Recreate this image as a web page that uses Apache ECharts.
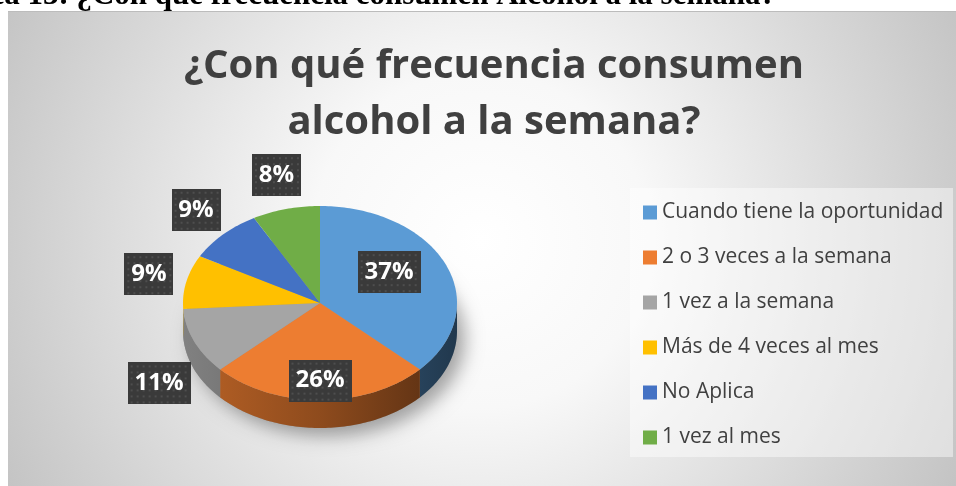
<!DOCTYPE html>
<html>
<head>
<meta charset="utf-8">
<script src="https://cdn.jsdelivr.net/npm/echarts@6/dist/echarts.min.js"></script>
<style>
  html, body { margin: 0; padding: 0; background: #fff; }
  #chart { width: 956px; height: 486px; }
</style>
</head>
<body>
<div id="chart"></div>
<script>
const categories = ['Cuando tiene la oportunidad', '2 o 3 veces a la semana', '1 vez a la semana', 'Más de 4 veces al mes', 'No Aplica', '1 vez al mes'];
const values = [37, 26, 11, 9, 9, 8];
const sliceColors = ['#5b9bd5', '#ed7d31', '#a5a5a5', '#ffc000', '#4472c4', '#70ad47'];

const chart = echarts.init(document.getElementById('chart'));

// flattened pie, drawn as a tilted disc
const cx = 320, cy = 303, rx = 137, ry = 97, depth = 28;
const total = values.reduce((a, b) => a + b, 0);
const starts = [];
values.reduce((acc, v, i) => { starts[i] = acc; return acc + v; }, 0);

function rim(a, dy) {
  return [cx + rx * Math.sin(a), cy - ry * Math.cos(a) + dy];
}

function arcPoints(a0, a1, dy) {
  const n = Math.max(2, Math.ceil((a1 - a0) / 0.02));
  const pts = [];
  for (let k = 0; k <= n; k++) pts.push(rim(a0 + (a1 - a0) * k / n, dy));
  return pts;
}

function shade(hex, f) {
  const c = echarts.color.parse(hex);
  return 'rgb(' + Math.round(c[0] * f) + ',' + Math.round(c[1] * f) + ',' + Math.round(c[2] * f) + ')';
}

// dark dotted box behind the percentage labels
function dotBox(w, h) {
  const c = document.createElement('canvas');
  c.width = w; c.height = h;
  const ctx = c.getContext('2d');
  ctx.fillStyle = '#3a3a3a';
  ctx.fillRect(0, 0, w, h);
  ctx.fillStyle = '#4e4e4e';
  for (let y = 3; y < h; y += 6) {
    for (let x = 3; x < w; x += 6) ctx.fillRect(x, y, 2, 2);
  }
  return c;
}

function renderSlice(params, api) {
  const i = params.seriesIndex;
  const v = api.value(0);
  const a0 = starts[i] / total * Math.PI * 2;
  const a1 = (starts[i] + v) / total * Math.PI * 2;
  const color = sliceColors[i];
  const children = [];

  if (i === 0) {
    children.push({
      type: 'ellipse',
      silent: true,
      shape: { cx: cx, cy: cy + depth, rx: rx, ry: ry },
      style: { fill: '#999', shadowBlur: 18, shadowOffsetX: 8, shadowOffsetY: 8, shadowColor: 'rgba(0,0,0,0.35)' }
    });
  }

  // side wall (only the front half is visible)
  const f0 = Math.max(a0, Math.PI / 2);
  const f1 = Math.min(a1, Math.PI * 1.5);
  if (f1 > f0) {
    const pts = arcPoints(f0, f1, 0).concat(arcPoints(f0, f1, depth).reverse());
    children.push({
      type: 'polygon',
      shape: { points: pts },
      style: {
        fill: new echarts.graphic.LinearGradient(cx - rx, 0, cx + rx, 0, [
          { offset: 0, color: shade(color, 0.78) },
          { offset: 0.5, color: shade(color, 0.6) },
          { offset: 1, color: shade(color, 0.36) }
        ], true)
      }
    });
  }

  // top face
  children.push({
    type: 'polygon',
    shape: { points: [[cx, cy]].concat(arcPoints(a0, a1, 0)) },
    style: { fill: color }
  });

  // label
  const mid = (a0 + a1) / 2;
  const inside = v >= 20;
  const lx = cx + rx * (inside ? 0.55 : 1.28) * Math.sin(mid);
  const ly = cy - ry * (inside ? 0.8 : 1.36) * Math.cos(mid) + (!inside && Math.cos(mid) < 0 ? depth : 0);
  const text = Math.round(v / total * 100) + '%';
  const w = text.length > 2 ? 63 : 49;
  children.push({
    type: 'text',
    x: lx,
    y: ly,
    style: {
      text: text,
      fill: '#fff',
      font: 'bold 24px "Open Sans"',
      align: 'center',
      verticalAlign: 'middle',
      width: w - 16,
      height: 42,
      lineHeight: 42,
      padding: [0, 8],
      backgroundColor: { image: dotBox(w, 42) },
      shadowBlur: 6,
      shadowOffsetX: 3,
      shadowOffsetY: 3,
      shadowColor: 'rgba(0,0,0,0.45)'
    }
  });

  return { type: 'group', children: children };
}

const option = {
  animation: false,
  color: sliceColors,
  title: {
    text: '¿Con qué frecuencia consumen\nalcohol a la semana?',
    left: 489,
    top: 34,
    textAlign: 'center',
    textStyle: {
      fontFamily: 'Open Sans',
      fontWeight: 'bold',
      fontSize: 40,
      lineHeight: 56,
      color: '#404040'
    }
  },
  legend: {
    orient: 'vertical',
    left: 643,
    top: 202,
    padding: 0,
    itemWidth: 14,
    itemHeight: 14,
    itemGap: 24,
    icon: 'rect',
    selectedMode: false,
    data: categories,
    textStyle: { fontFamily: 'Open Sans', fontSize: 21, lineHeight: 20, color: '#404040' }
  },
  graphic: [
    {
      type: 'rect',
      z: -10,
      silent: true,
      shape: { x: 8, y: 11, width: 948, height: 475 },
      style: {
        fill: new echarts.graphic.RadialGradient(480, 240, 560, [
          { offset: 0, color: '#ffffff' },
          { offset: 0.3, color: '#f8f8f8' },
          { offset: 1, color: '#c0c0c0' }
        ], true)
      }
    },
    {
      type: 'line',
      z: -9,
      silent: true,
      shape: { x1: 8, y1: 11.5, x2: 956, y2: 11.5 },
      style: { stroke: '#bcbcbc', lineWidth: 1 }
    },
    {
      type: 'rect',
      z: -8,
      silent: true,
      shape: { x: 630, y: 188, width: 323, height: 269 },
      style: { fill: 'rgba(255,255,255,0.45)' }
    },
    {
      type: 'text',
      z: -8,
      silent: true,
      x: 776,
      y: -4,
      style: {
        text: 'Gráfica 13: ¿Con qué frecuencia consumen Alcohol a la semana?',
        font: 'bold 31px "Liberation Serif"',
        fill: '#000',
        align: 'right',
        verticalAlign: 'middle'
      }
    }
  ],
  series: categories.map((name, i) => ({
    type: 'custom',
    name: name,
    coordinateSystem: 'none',
    itemStyle: { color: sliceColors[i] },
    data: [[values[i]]],
    renderItem: renderSlice
  }))
};

chart.setOption(option);
</script>
</body>
</html>
